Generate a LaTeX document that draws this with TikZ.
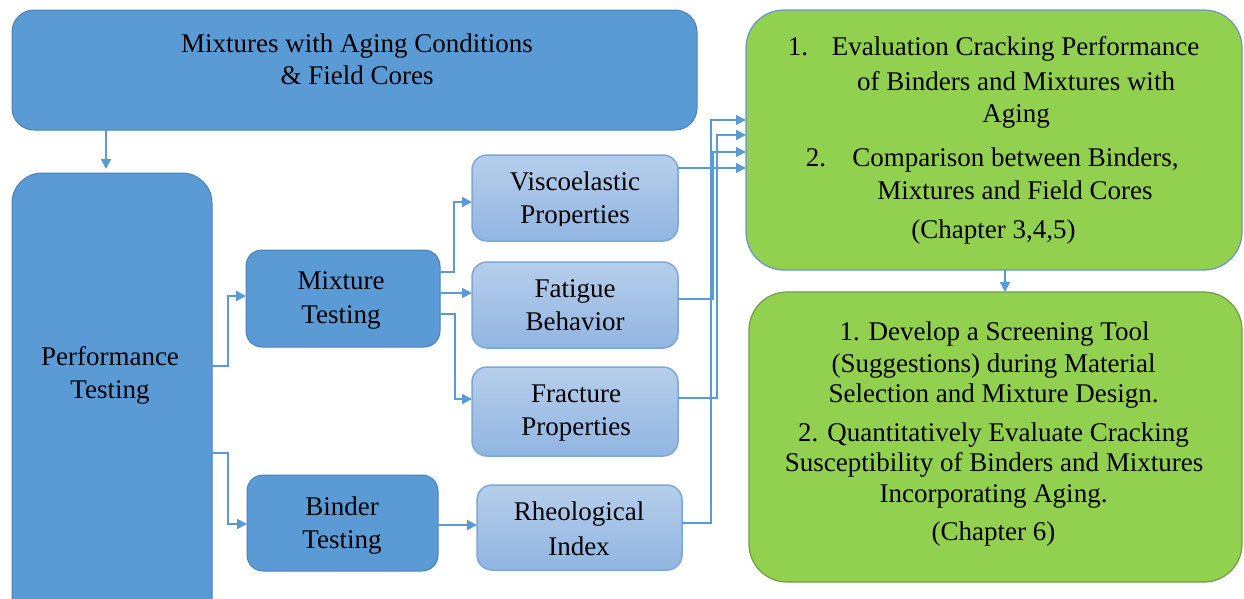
\documentclass[tikz,border=0pt]{standalone}
\usepackage{fontspec}
\setmainfont{Liberation Serif}
\newfontfamily\tnr{Liberation Serif}
\usetikzlibrary{arrows.meta}
\definecolor{dblue}{HTML}{5B9BD5}
\definecolor{dborder}{HTML}{4A80B8}
\definecolor{lbtop}{HTML}{B6CEEB}
\definecolor{lbbot}{HTML}{91B5E2}
\definecolor{lborder}{HTML}{7DA6DA}
\definecolor{gfill}{HTML}{92D050}
\definecolor{gborderA}{HTML}{6A94C4}
\definecolor{gborderB}{HTML}{6F9E40}
\definecolor{conn}{HTML}{5B9BD5}
\begin{document}
\begin{tikzpicture}[x=1pt,y=-1pt,
  dbox/.style={draw=dborder, line width=1pt, fill=dblue, anchor=north west, inner sep=0pt, outer sep=0pt},
  lbox/.style={draw=lborder, line width=1.5pt, top color=lbtop, bottom color=lbbot, anchor=north west, inner sep=0pt, outer sep=0pt, rounded corners=15pt},
  gbox/.style={fill=gfill, line width=1.2pt, anchor=north west, inner sep=0pt, outer sep=0pt, rounded corners=38pt},
  ln/.style={anchor=base, inner sep=0pt, font=\tnr\fontsize{27}{33}\selectfont},
  arr/.style={draw=conn, line width=2pt, -{Triangle[length=10pt,width=10pt]}},
  arrthin/.style={draw=conn, line width=1.5pt, -{Triangle[length=10pt,width=10pt]}},
]
\useasboundingbox (0,0) rectangle (1244,598);
\clip (0,0) rectangle (1244,598);

% boxes
\node[dbox, rounded corners=22pt, minimum width=685pt, minimum height=120pt] (top) at (12,10) {};
\node[dbox, rounded corners=30pt, minimum width=200pt, minimum height=470pt] (perf) at (12,173) {};
\node[dbox, rounded corners=16pt, minimum width=194pt, minimum height=97pt] (mix) at (246,250) {};
\node[dbox, rounded corners=16pt, minimum width=191pt, minimum height=96pt] (bind) at (247,475) {};
\node[lbox, minimum width=206pt, minimum height=86pt] (visc) at (472,155) {};
\node[lbox, minimum width=206pt, minimum height=86pt] (fat) at (472,262) {};
\node[lbox, minimum width=206pt, minimum height=89pt] (frac) at (472,367) {};
\node[lbox, minimum width=205pt, minimum height=85pt] (rheo) at (477,485) {};
\node[gbox, draw=gborderA, minimum width=496pt, minimum height=260pt] (g1) at (746,10) {};
\node[gbox, draw=gborderB, minimum width=493pt, minimum height=290pt] (g2) at (749,292) {};

% texts
\node[ln] (t1) at (357,52) {Mixtures with Aging Conditions};
\node[ln] (t2) at (357,84) {\& Field Cores};
\node[ln] (p1) at (110,365) {Performance};
\node[ln] (p2) at (110,398) {Testing};
\node[ln] (m1) at (341,289) {Mixture};
\node[ln] (m2) at (341,323) {Testing};
\node[ln] (b1) at (342,515) {Binder};
\node[ln] (b2) at (342,548) {Testing};
\node[ln] (v1) at (575,190) {Viscoelastic};
\begin{scope}
\clip (visc.north west) rectangle ([yshift=16pt]visc.south east);
\node[ln] (v2) at (575,223) {Properties};
\end{scope}
\node[ln] (f1) at (575,297) {Fatigue};
\node[ln] (f2) at (575,330) {Behavior};
\node[ln] (r1) at (576,402) {Fracture};
\node[ln] (r2) at (576,435) {Properties};
\node[ln] (h1) at (579,520) {Rheological};
\node[ln] (h2) at (579,555) {Index};

\node[ln] (ga0) at (798,55) {1.};
\node[ln] (ga1) at (1015.5,55) {Evaluation Cracking Performance};
\node[ln] (ga2) at (1016,90) {of Binders and Mixtures with};
\node[ln] (ga3) at (1016,122) {Aging};
\node[ln] (gb0) at (816,166) {2.};
\node[ln] (gb1) at (1015.5,166) {Comparison between Binders,};
\node[ln] (gb2) at (1015,199) {Mixtures and Field Cores};
\node[ln] (gc) at (993.5,238) {(Chapter 3,4,5)};

\node[ln] (s1) at (994.5,340) {1. Develop a Screening Tool};
\node[ln] (s2) at (993.5,372) {(Suggestions) during Material};
\node[ln] (s3) at (993.5,402) {Selection and Mixture Design.};
\node[ln] (s4) at (993.5,441) {2. Quantitatively Evaluate Cracking};
\node[ln] (s5) at (994,471) {Susceptibility of Binders and Mixtures};
\node[ln] (s6) at (993.5,502) {Incorporating Aging.};
\node[ln] (s7) at (993.5,540) {(Chapter 6)};

% connectors
\draw[arr, shorten >=4pt] (top.south -| 106,0) -- (perf.north -| 106,0);
\draw[arr] (perf.east |- 0,366) -- (228,366) |- (mix.west |- 0,296);
\draw[arr] (perf.east |- 0,453) -- (228,453) |- (bind.west |- 0,524);
\draw[arr] (mix.east |- 0,272) -- (454,272) |- (visc.west |- 0,202);
\draw[arr] (mix.east |- 0,293) -- (fat.west |- 0,293);
\draw[arr] (mix.east |- 0,314) -- (455,314) |- (frac.west |- 0,399);
\draw[arr] (bind.east |- 0,525) -- (rheo.west |- 0,525);

\draw[arrthin] (visc.east |- 0,168) -- (g1.west |- 0,168);
\draw[arrthin] (fat.east |- 0,299) -- (713,299) |- (g1.west |- 0,152);
\draw[arrthin] (frac.east |- 0,398) -- (717,398) |- (g1.west |- 0,135);
\draw[arrthin] (rheo.east |- 0,523) -- (711,523) |- (g1.west |- 0,120);
\draw[arrthin] (g1.south -| 1005,0) -- (g2.north -| 1005,0);
\end{tikzpicture}
\end{document}
